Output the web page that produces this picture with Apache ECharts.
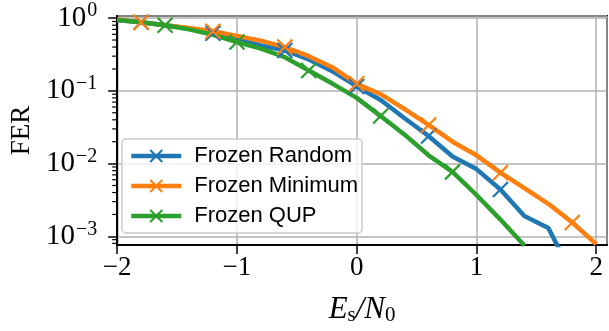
<!DOCTYPE html>
<html>
<head>
<meta charset="utf-8">
<script src="https://cdn.jsdelivr.net/npm/echarts@6/dist/echarts.min.js"></script>
<style>
html, body { margin: 0; padding: 0; background: #fff; }
#chart { width: 609px; height: 331px; }
</style>
</head>
<body>
<div id="chart"></div>
<script>
var esn0 = [-2.0, -1.8, -1.6, -1.4, -1.2, -1.0, -0.8, -0.6, -0.4, -0.2, 0.0, 0.2, 0.4, 0.6, 0.8, 1.0, 1.2, 1.4, 1.6, 1.8, 2.0]

var ferRandom = [0.94, 0.88, 0.80, 0.72, 0.62, 0.51, 0.42, 0.36, 0.27, 0.185, 0.115, 0.075, 0.042, 0.024, 0.0125, 0.0084, 0.0044, 0.0019, 0.0013, 0.0003, null]
var ferMinimum = [0.96, 0.88, 0.80, 0.73, 0.66, 0.57, 0.49, 0.40, 0.30, 0.21, 0.125, 0.09, 0.056, 0.034, 0.020, 0.013, 0.0075, 0.0046, 0.0028, 0.00155, 0.00078]
var ferQup = [0.94, 0.88, 0.80, 0.70, 0.59, 0.47, 0.38, 0.29, 0.19, 0.125, 0.08, 0.045, 0.025, 0.013, 0.0077, 0.0037, 0.0017, 0.00075, null, null, null]

var seriesNames = ['Frozen Random', 'Frozen Minimum', 'Frozen QUP']
var minorTickValues = [8e-4, 9e-4, 2e-3, 3e-3, 4e-3, 5e-3, 6e-3, 7e-3, 8e-3, 9e-3,
    2e-2, 3e-2, 4e-2, 5e-2, 6e-2, 7e-2, 8e-2, 9e-2, 0.2, 0.3, 0.4, 0.5, 0.6, 0.7, 0.8, 0.9]

var xMin = -2, xMax = 2.09
var yMin = 0.00076, yMax = 1.07

var crossSymbol = 'path://M0,0L10,10M10,0L0,10'
var serif = 'Liberation Serif'

function buildData(values, firstMarker) {
    var out = []
    for (var i = 0; i < esn0.length; i++) {
        if (values[i] == null) continue
        var item = { value: [esn0[i], values[i]] }
        if (i < firstMarker || (i - firstMarker) % 3 !== 0) item.symbol = 'none'
        out.push(item)
    }
    return out
}

function lineSeries(name, values, color, firstMarker) {
    return {
        name: name,
        type: 'line',
        data: buildData(values, firstMarker),
        symbol: crossSymbol,
        symbolSize: 15,
        showAllSymbol: true,
        lineStyle: { color: color, width: 4.5 },
        itemStyle: { color: color, borderColor: color, borderWidth: 2.2 },
        emphasis: { disabled: true },
        clip: true
    }
}

var chart = echarts.init(document.getElementById('chart'))

var option = {
    animation: false,
    grid: {
        left: 111, top: 16, right: 2, bottom: 83,
        show: true, borderColor: '#000', borderWidth: 2,
        backgroundColor: 'transparent'
    },
    legend: {
        orient: 'vertical',
        left: 122, top: 139,
        data: seriesNames,
        itemWidth: 50, itemHeight: 15, itemGap: 8,
        padding: [6, 4, 6, 7],
        backgroundColor: 'rgba(255,255,255,0.8)',
        borderColor: '#cccccc', borderWidth: 1.5, borderRadius: 4,
        lineStyle: { width: 4.5 },
        textStyle: { fontFamily: 'Liberation Sans', fontSize: 22, color: '#000', padding: [0, 0, 0, 8] }
    },
    xAxis: {
        type: 'value',
        min: xMin, max: xMax, interval: 1,
        name: '{i|E}{sub|s}{i|/N}{sub|0}',
        nameLocation: 'middle', nameGap: 48,
        nameTextStyle: {
            rich: {
                i: { fontFamily: serif, fontStyle: 'italic', fontSize: 31, color: '#000' },
                sub: { fontFamily: serif, fontSize: 21, color: '#000', padding: [12, 0, 0, 0] }
            }
        },
        axisLine: { lineStyle: { color: '#000', width: 2 } },
        axisTick: { length: 9, lineStyle: { color: '#000', width: 1.5 } },
        axisLabel: {
            showMaxLabel: false, margin: 9,
            fontFamily: serif, fontSize: 27, color: '#000',
            formatter: function(v) { return v < 0 ? '\u2212' + Math.abs(v) : String(v) }
        },
        splitLine: { show: true, lineStyle: { color: '#b0b0b0', width: 1.5 } }
    },
    yAxis: {
        type: 'log', logBase: 10,
        min: yMin, max: yMax,
        name: 'FER',
        nameLocation: 'middle', nameGap: 82, nameRotate: 90,
        nameTextStyle: { fontFamily: serif, fontSize: 27, color: '#000' },
        axisLine: { onZero: false, lineStyle: { color: '#000', width: 2 } },
        axisTick: { length: 9, lineStyle: { color: '#000', width: 1.5 } },
        axisLabel: {
            margin: 20,
            showMinLabel: false, showMaxLabel: false,
            formatter: function(v) {
                var p = Math.log10(v)
                var r = Math.round(p)
                if (Math.abs(p - r) > 1e-6) return ''
                return '{b|10}{s|' + (r < 0 ? '\u2212' + Math.abs(r) : r) + '}'
            },
            rich: {
                b: { fontFamily: serif, fontSize: 29, color: '#000' },
                s: { fontFamily: serif, fontSize: 20, color: '#000', padding: [0, 0, 14, 1] }
            }
        },
        splitLine: { show: true, lineStyle: { color: '#b0b0b0', width: 1.5 } }
    },
    series: [
        lineSeries(seriesNames[0], ferRandom, '#1f77b4', 1),
        lineSeries(seriesNames[1], ferMinimum, '#ff7f0e', 1),
        lineSeries(seriesNames[2], ferQup, '#2ca02c', 2),
        {
            type: 'custom',
            silent: true,
            z: 10,
            data: minorTickValues.map(function(v) { return [xMin, v] }),
            renderItem: function(params, api) {
                var p = api.coord([api.value(0), api.value(1)])
                return {
                    type: 'line',
                    shape: { x1: p[0] - 5, y1: p[1], x2: p[0], y2: p[1] },
                    style: { stroke: '#000', lineWidth: 1.2 }
                }
            }
        }
    ]
}

chart.setOption(option)
</script>
</body>
</html>
